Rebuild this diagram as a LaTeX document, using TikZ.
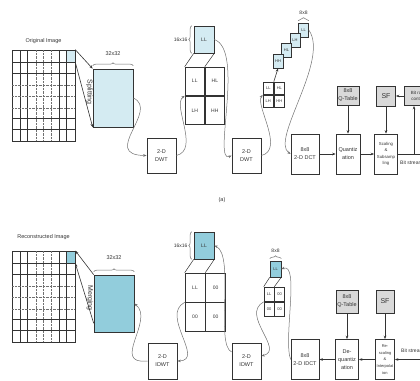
\documentclass[tikz,border=0pt]{standalone}
\usepackage{fontspec}
\setmainfont{Liberation Sans}
\usetikzlibrary{arrows.meta, positioning, calc, decorations.pathreplacing}
\definecolor{dwtBlue}{HTML}{D4EBF2}
\definecolor{idwtBlue}{HTML}{92CDDC}
\definecolor{ctrlGray}{HTML}{D9D9D9}
\definecolor{lineDark}{HTML}{333333}
\definecolor{lineMuted}{HTML}{707070}

\begin{document}
\begin{tikzpicture}[x=1pt, y=-1pt,
    proc/.style={rectangle, draw=lineDark, line width=0.7pt, inner sep=0pt,
      align=center, font=\fontsize{5.5}{8}\selectfont, text=lineDark},
    ctrl/.style={proc, fill=ctrlGray},
    band/.style={rectangle, draw=lineDark, line width=0.6pt, inner sep=0pt,
      font=\fontsize{5}{5}\selectfont, text=lineDark},
    tiny/.style={font=\fontsize{4}{4}\selectfont},
    ar/.style={-{Stealth[length=3.5pt, width=2.6pt]}, line width=0.6pt, lineDark},
    curv/.style={-{Stealth[length=3.5pt, width=2.6pt]}, line width=0.5pt, lineMuted},
    lbl/.style={inner sep=0pt, font=\fontsize{5.5}{6}\selectfont, text=lineDark},
    brk/.style={decorate, decoration={brace, amplitude=3pt}, line width=0.5pt, lineMuted}]
    \useasboundingbox (0,0) rectangle (420,380);
    \clip (0,0) rectangle (420,380);
    % image grids
    \node[band, minimum width=63, minimum height=91] (imgA) at (43.5,95.5) {};
    \node[band, minimum width=63, minimum height=91] (imgB) at (43.5,296.5) {};
    \foreach \dy in {0,201} {
      \draw[lineDark, line width=0.5pt] (20.7,50+\dy) -- (20.7,141+\dy) (27.7,50+\dy) -- (27.7,141+\dy)
        (59.3,50+\dy) -- (59.3,141+\dy) (66.7,50+\dy) -- (66.7,141+\dy)
        (12,62+\dy) -- (75,62+\dy) (12,73+\dy) -- (75,73+\dy)
        (12,118+\dy) -- (75,118+\dy) (12,129+\dy) -- (75,129+\dy);
      \draw[lineMuted, line width=0.4pt, densely dotted] (36,50+\dy) -- (36,141+\dy)
        (43.3,50+\dy) -- (43.3,141+\dy) (51,50+\dy) -- (51,141+\dy)
        (12,85+\dy) -- (75,85+\dy) (12,96+\dy) -- (75,96+\dy) (12,108+\dy) -- (75,108+\dy);
    }
    \node[band, fill=dwtBlue, minimum width=8.3, minimum height=12] (cellA) at (70.85,56) {};
    \node[band, fill=idwtBlue, minimum width=8.3, minimum height=12] (cellB) at (70.85,257) {};
    \node[lbl, above=6pt of imgA] (tOrig) {Original Image};
    \node[lbl, above=11pt of imgB] (tRec) {Reconstructed Image};

    % forward: splitting and DWT
    \node[band, fill=dwtBlue, minimum width=40, minimum height=58] (splitA) at (113,98) {};
    \draw[brk] ([yshift=3pt]splitA.north west) -- ([yshift=3pt]splitA.north east);
    \node[lbl, above=13pt of splitA] (tSplitSize) {32x32};
    \node[lbl, rotate=-90, font=\fontsize{7}{7}\selectfont] (tSplit) at (89.5,92) {Splitting};
    \draw[ar] (cellA.north east) -- (splitA.north west);
    \draw[ar] (cellA.south east) -- (splitA.south west);
    \node[proc, minimum width=29, minimum height=35] (dwtA) at (161.5,155.5) {2-D\\DWT};
    \draw[curv] (splitA.east) .. controls (160,110) and (100,155) .. (dwtA.west);
    \node[band, fill=dwtBlue, minimum width=20, minimum height=27] (llA) at (204,39.5) {LL};
    \draw[brk] ([xshift=-2pt]llA.south west) -- ([xshift=-2pt]llA.north west);
    \node[lbl, font=\fontsize{5}{5}\selectfont, left=6pt of llA] (tSixteenA) {16x16};
    \node[band, minimum width=19.5, minimum height=28.5] (qaLL) at (194.75,81.25) {LL};
    \node[band, minimum width=19.5, minimum height=28.5, right=0pt of qaLL] (qaHL) {HL};
    \node[band, minimum width=19.5, minimum height=28.5, below=0pt of qaLL] (qaLH) {LH};
    \node[band, minimum width=19.5, minimum height=28.5, right=0pt of qaLH] (qaHH) {HH};
    \draw[lineDark, line width=0.5pt] (llA.south west) -- (qaLL.north west) (llA.south east) -- (qaLL.north east);
    \draw[curv] (dwtA.east) .. controls (200,150) and (172,105) .. (qaLL.south west);
    \node[proc, minimum width=29, minimum height=35] (dwtB) at (246.5,155.5) {2-D\\DWT};
    \draw[curv] (llA.east) .. controls (245,50) and (212,165) .. (dwtB.west);
    \node[band, tiny, minimum width=10.5, minimum height=12.5] (saLL) at (268.25,88.25) {LL};
    \node[band, tiny, minimum width=10.5, minimum height=12.5, right=0pt of saLL] (saHL) {HL};
    \node[band, tiny, minimum width=10.5, minimum height=12.5, below=0pt of saLL] (saLH) {LH};
    \node[band, tiny, minimum width=10.5, minimum height=12.5, right=0pt of saLH] (saHH) {HH};
    \draw[curv] (dwtB.east) .. controls (285,150) and (255,105) .. (saLL.south west);
    \node[band, tiny, fill=dwtBlue, minimum width=10, minimum height=14] (sbLL) at (303.5,30) {LL};
    \node[band, tiny, fill=dwtBlue, minimum width=10, minimum height=14] (sbLH) at (295,40) {LH};
    \node[band, tiny, fill=dwtBlue, minimum width=10, minimum height=14] (sbHL) at (286.5,50.5) {HL};
    \node[band, tiny, fill=dwtBlue, minimum width=10, minimum height=14] (sbHH) at (278,61) {HH};
    \draw[ar] (saLL.north east) -- (sbHH.south);
    \draw[brk] ([yshift=2pt]sbLL.north west) -- ([yshift=2pt]sbLL.north east);
    \node[lbl, font=\fontsize{5}{5}\selectfont, above=7.5pt of sbLL] (tEightA) {8x8};

    % forward: DCT chain
    \node[proc, minimum width=28, minimum height=40] (dct) at (305,154) {8x8\\2-D DCT};
    \draw[curv] (sbLL.east) .. controls (330,60) and (270,140) .. (dct.west);
    \node[proc, minimum width=24, minimum height=40] (quant) at (348,154) {Quantiz\\ation};
    \node[proc, minimum width=23, minimum height=40, font=\fontsize{4.3}{6.5}\selectfont] (scal) at (386,154) {Scaling\\\&\\Subsamp\\ling};
    \node[ctrl, minimum width=22, minimum height=19] (qtab) at (348,95.5) {8x8\\Q-Table};
    \node[ctrl, minimum width=19, minimum height=20, font=\fontsize{7}{7}\selectfont] (sfA) at (386,96) {SF};
    \node[ctrl, minimum width=28, minimum height=19, font=\fontsize{4.5}{6}\selectfont] (rate) at (418,96) {Bit rate\\control};
    \draw[ar] (dct) -- (quant);
    \draw[ar] (quant) -- (scal);
    \draw[ar] (qtab) -- (quant);
    \draw[ar] (sfA) -- (scal);
    \draw[ar] (rate) -- (sfA);
    \coordinate (bsA) at (430,154);
    \coordinate (jA) at (414,154);
    \draw[lineDark, line width=0.6pt] (scal) -- (bsA);
    \draw[ar] (jA) -- (jA |- rate.south);
    \node[lbl, anchor=west, font=\fontsize{5}{5}\selectfont] (tBitA) at (400,163) {Bit stream};
    \node[lbl] (tCap) at (222,200) {(a)};

    % inverse: merging and IDWT
    \node[band, fill=idwtBlue, minimum width=40, minimum height=57] (mergeB) at (114,303.5) {};
    \draw[brk] ([yshift=3pt]mergeB.north west) -- ([yshift=3pt]mergeB.north east);
    \node[lbl, above=15pt of mergeB] (tMergeSize) {32x32};
    \node[lbl, rotate=-90, font=\fontsize{7}{7}\selectfont] (tMerge) at (90,298) {Merging};
    \draw[ar] (mergeB.north west) -- (cellB.north east);
    \draw[ar] ([yshift=9pt]mergeB.south west) -- (cellB.south east);
    \node[proc, minimum width=29, minimum height=36] (idwtA) at (162.5,361) {2-D\\IDWT};
    \draw[curv] (idwtA.west) .. controls (110,365) and (155,320) .. (mergeB.east);
    \node[band, fill=idwtBlue, minimum width=20, minimum height=27] (llB) at (204,245.5) {LL};
    \draw[brk] ([xshift=-2pt]llB.south west) -- ([xshift=-2pt]llB.north west);
    \node[lbl, font=\fontsize{5}{5}\selectfont, left=6pt of llB] (tSixteenB) {16x16};
    \node[band, minimum width=20, minimum height=29] (qbLL) at (195,287.5) {LL};
    \node[band, minimum width=20, minimum height=29, right=0pt of qbLL] (qbHL) {00};
    \node[band, minimum width=20, minimum height=29, below=0pt of qbLL] (qbLH) {00};
    \node[band, minimum width=20, minimum height=29, right=0pt of qbLH] (qbHH) {00};
    \draw[lineDark, line width=0.5pt] (llB.south west) -- (qbLL.north west) (llB.south east) -- (qbLL.north east);
    \draw[curv] (qbLL.south west) .. controls (160,315) and (205,360) .. (idwtA.east);
    \node[proc, minimum width=29, minimum height=36] (idwtB) at (246.5,361) {2-D\\IDWT};
    \draw[curv] ([yshift=9pt]idwtB.west) .. controls (215,345) and (235,255) .. (llB.east);
    \node[band, tiny, fill=idwtBlue, minimum width=11, minimum height=16] (sLLB) at (275.5,269) {LL};
    \draw[brk] ([yshift=2pt]sLLB.north west) -- ([yshift=2pt]sLLB.north east);
    \node[lbl, font=\fontsize{5}{5}\selectfont, above=7.5pt of sLLB] (tEightB) {8x8};
    \node[band, tiny, minimum width=10, minimum height=14.5] (sqLL) at (269,294.25) {LL};
    \node[band, tiny, minimum width=10, minimum height=14.5, right=0pt of sqLL] (sqHL) {00};
    \node[band, tiny, minimum width=10, minimum height=14.5, below=0pt of sqLL] (sqLH) {00};
    \node[band, tiny, minimum width=10, minimum height=14.5, right=0pt of sqLH] (sqHH) {00};
    \draw[lineDark, line width=0.5pt] (sLLB.south west) -- (sqLL.north west) (sLLB.south east) -- (sqLL.north east);
    \draw[curv] (sqLL.south west) .. controls (240,315) and (285,350) .. ([yshift=5pt]idwtB.east);

    % inverse: IDCT chain
    \node[proc, minimum width=28, minimum height=40] (idct) at (305,359.5) {8x8\\2-D IDCT};
    \draw[curv] (idct.west) .. controls (283,340) and (300,262) .. (sLLB.east);
    \node[proc, minimum width=23, minimum height=40] (dequant) at (347,359.5) {De-\\quantiz\\ation};
    \node[proc, minimum width=19, minimum height=40, font=\fontsize{4}{6.8}\selectfont] (rescal) at (385,359.5) {Re-\\scaling\\\&\\Interpolat\\ion};
    \node[ctrl, minimum width=22, minimum height=23] (qtabB) at (347,301.5) {8x8\\Q-Table};
    \node[ctrl, minimum width=18, minimum height=23, font=\fontsize{7}{7}\selectfont] (sfB) at (385,301.5) {SF};
    \draw[ar] (qtabB) -- (dequant);
    \draw[ar] (sfB) -- (rescal);
    \draw[ar] (rescal) -- (dequant);
    \draw[ar] (dequant) -- (idct);
    \coordinate (bsB) at (430,359.5);
    \draw[ar] (bsB) -- (rescal);
    \node[lbl, anchor=west, font=\fontsize{5}{5}\selectfont] (tBitB) at (401,351) {Bit stream};
  \end{tikzpicture}
\end{document}
